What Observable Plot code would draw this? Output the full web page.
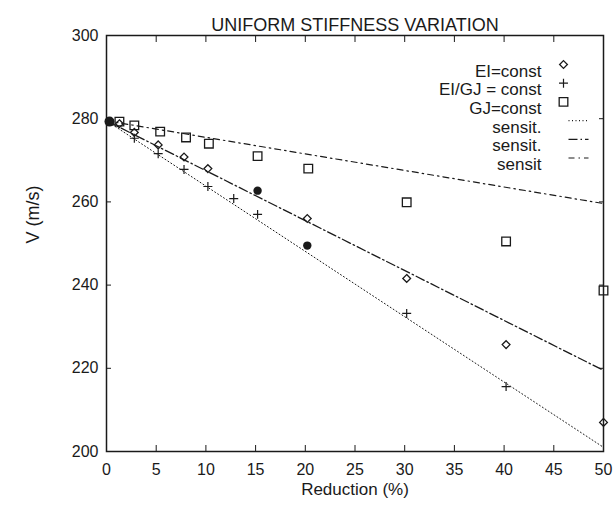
<!DOCTYPE html>
<html><head><meta charset="utf-8">
<script src="https://cdn.jsdelivr.net/npm/d3@7"></script>
<script src="https://cdn.jsdelivr.net/npm/@observablehq/plot@0.6"></script>
<style>body{margin:0;background:#fff}</style>
</head><body><div id="chart"></div>
<script>
const title = "UNIFORM STIFFNESS VARIATION";
const xLabel = "Reduction (%)";
const yLabel = "V (m/s)";
const xTicks = [0, 5, 10, 15, 20, 25, 30, 35, 40, 45, 50];
const yTicks = [200, 220, 240, 260, 280, 300];

// EI = const (diamonds)
const eiX = [1.3, 2.8, 5.2, 7.8, 10.2, 20.2, 30.2, 40.2, 50];
const eiV = [278.8, 276.7, 273.7, 270.8, 268.0, 256.0, 241.6, 225.7, 207.0];
// EI/GJ = const (plus)
const ratioX = [2.8, 5.2, 7.8, 10.2, 12.8, 15.2, 30.2, 40.2];
const ratioV = [275.3, 271.6, 267.8, 263.7, 260.8, 257.0, 233.2, 215.6];
// GJ = const (squares)
const gjX = [1.3, 2.8, 5.4, 8.0, 10.3, 15.2, 20.3, 30.2, 40.2, 50];
const gjV = [279.3, 278.4, 276.9, 275.5, 274.0, 271.0, 268.0, 259.9, 250.5, 238.7];
// filled reference points
const refX = [0.3, 15.2, 20.2];
const refV = [279.3, 262.7, 249.5];
// sensitivity lines
const sensX = [0, 50];
const sens1V = [279.5, 201.0];
const sens2V = [279.5, 219.5];
const sens3V = [279.5, 259.6];

const legendLabels = ["EI=const", "EI/GJ = const", "GJ=const", "sensit.", "sensit.", "sensit"];

const pts = (xs, vs) => xs.map((x, i) => ({x, v: vs[i]}));
const ink = "#1a1a1a";
const dash1 = "1,2.5", dash2 = "9,3,1.5,3", dash3 = "6,4,1.5,4";
const hline = {draw(ctx) { ctx.moveTo(-10, 0); ctx.lineTo(10, 0); }};

const rowY = i => 29 + i * 18.7;
const legendMarks = [];
legendLabels.forEach((t, i) => {
  legendMarks.push(Plot.text([t], {frameAnchor: "top-right", dx: -62, dy: rowY(i), textAnchor: "end", fontSize: 17, fill: ink}));
});
legendMarks.push(Plot.dot([0], {frameAnchor: "top-right", dx: -40, dy: rowY(0), symbol: "diamond2", r: 3.5, stroke: ink, strokeWidth: 1.3}));
legendMarks.push(Plot.dot([0], {frameAnchor: "top-right", dx: -40, dy: rowY(1), symbol: "plus", r: 3, stroke: ink, strokeWidth: 1.2}));
legendMarks.push(Plot.dot([0], {frameAnchor: "top-right", dx: -40, dy: rowY(2), symbol: "square2", r: 5.5, stroke: ink, strokeWidth: 1.3}));
[dash1, dash2, dash3].forEach((d, i) => {
  legendMarks.push(Plot.dot([0], {frameAnchor: "top-right", dx: -25, dy: rowY(3 + i), symbol: hline, fill: "none", stroke: ink, strokeWidth: 1.2, strokeDasharray: d}));
});

const refPts = pts(refX, refV);

const chart = Plot.plot({
  width: 613, height: 506,
  marginLeft: 106, marginRight: 10, marginTop: 35, marginBottom: 55,
  style: {fontFamily: "'Liberation Sans', Arial, sans-serif", fontSize: "16px", color: ink, background: "white", overflow: "visible"},
  x: {domain: [0, 50]},
  y: {domain: [200, 300]},
  marks: [
    Plot.frame({stroke: ink, strokeWidth: 1.5}),
    Plot.axisX(xTicks, {anchor: "bottom", tickSize: -6, tickPadding: 18, label: null, fontSize: 16}),
    Plot.axisX(xTicks, {anchor: "top", tickSize: -6, tickFormat: () => "", label: null}),
    Plot.axisY(yTicks, {anchor: "left", tickSize: -5, tickPadding: 13, label: null, fontSize: 16}),
    Plot.axisY(yTicks, {anchor: "right", tickSize: -5, tickFormat: () => "", label: null}),
    Plot.line(pts(sensX, sens1V), {x: "x", y: "v", stroke: ink, strokeWidth: 1, strokeDasharray: dash1}),
    Plot.line(pts(sensX, sens2V), {x: "x", y: "v", stroke: ink, strokeWidth: 1.3, strokeDasharray: dash2}),
    Plot.line(pts(sensX, sens3V), {x: "x", y: "v", stroke: ink, strokeWidth: 1.2, strokeDasharray: dash3}),
    Plot.dot(pts(gjX, gjV), {x: "x", y: "v", symbol: "square2", r: 5.5, stroke: ink, strokeWidth: 1.3}),
    Plot.dot(pts(eiX, eiV), {x: "x", y: "v", symbol: "diamond2", r: 3.5, stroke: ink, strokeWidth: 1.3}),
    Plot.dot(pts(ratioX, ratioV), {x: "x", y: "v", symbol: "plus", r: 3, stroke: ink, strokeWidth: 1.2}),
    Plot.dot(refPts.slice(0, 1), {x: "x", y: "v", r: 5, fill: ink, stroke: "none"}),
    Plot.dot(refPts.slice(1), {x: "x", y: "v", r: 4.2, fill: ink, stroke: "none"}),
    Plot.text([title], {frameAnchor: "top", dy: -17, fontSize: 18, fill: ink}),
    Plot.text([xLabel], {frameAnchor: "bottom", dy: 43, fontSize: 17, fill: ink}),
    Plot.text([yLabel], {frameAnchor: "left", dx: -73, rotate: -90, fontSize: 18, fill: ink}),
    ...legendMarks
  ]
});
document.getElementById("chart").append(chart);
</script>
</body></html>
